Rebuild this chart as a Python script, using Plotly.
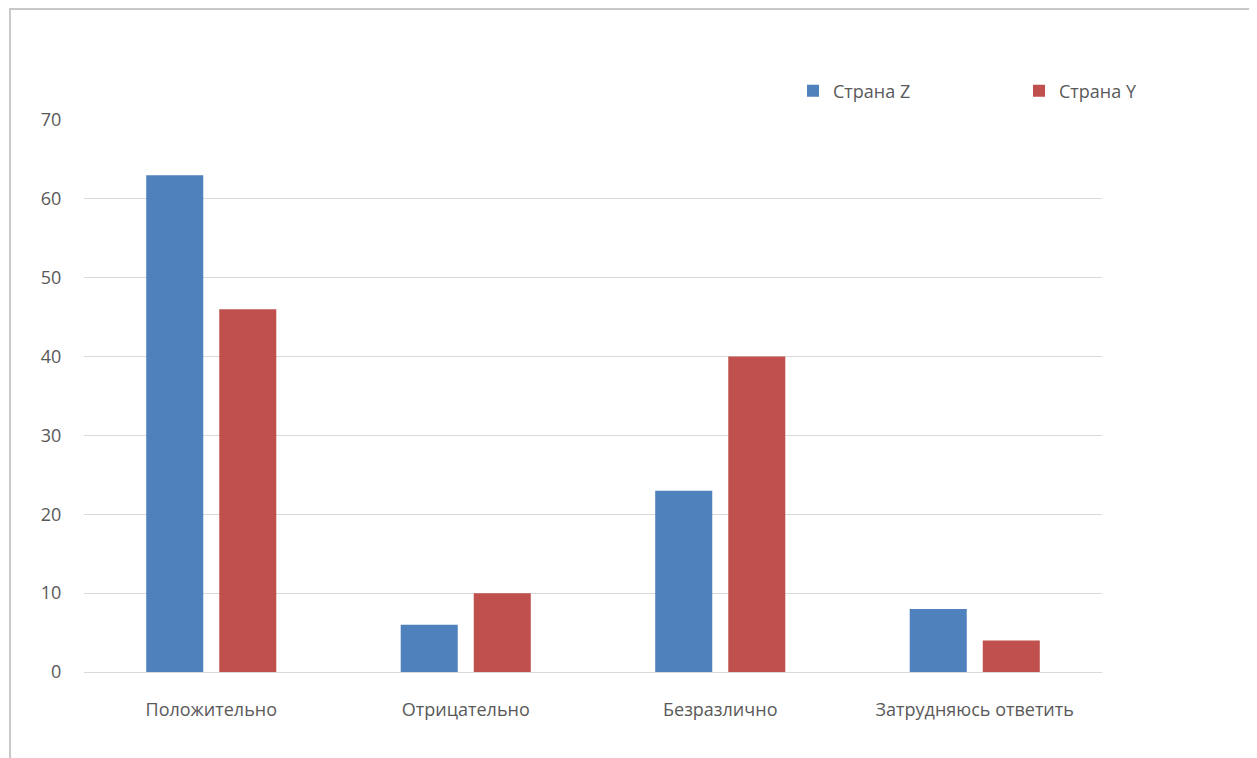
import plotly.graph_objects as go

categories = ["Положительно", "Отрицательно", "Безразлично", "Затрудняюсь ответить"]
country_z = [63, 6, 23, 8]
country_y = [46, 10, 40, 4]
series_names = ["Страна Z", "Страна Y"]
y_ticks = [0, 10, 20, 30, 40, 50, 60, 70]

# page has an 8px body margin; figure coordinates = page coordinates - 8
OFF = 8
W, H = 1257 - OFF, 758 - OFF
L, R, T, B = 84 - OFF, 155, 120 - OFF, 86
pw, ph = W - L - R, H - T - B

def px_x(page_x):
    return (page_x - OFF - L) / pw

def px_y(page_y):
    return (H - B - (page_y - OFF)) / ph

fig = go.Figure()
fig.add_trace(go.Bar(x=categories, y=country_z, name=series_names[0],
                     marker=dict(color="#4F81BD", line=dict(width=0))))
fig.add_trace(go.Bar(x=categories, y=country_y, name=series_names[1],
                     marker=dict(color="#C0504D", line=dict(width=0))))

font_family = "Open Sans, Noto Sans, sans-serif"
fig.update_layout(
    width=W, height=H,
    margin=dict(l=L, r=R, t=T, b=B, pad=0, autoexpand=False),
    paper_bgcolor="white", plot_bgcolor="white",
    barmode="group", bargap=0.426, bargroupgap=0.219,
    font=dict(family=font_family, size=19, color="#595959"),
    legend=dict(orientation="h", x=px_x(793), xanchor="left",
                y=px_y(91), yanchor="middle",
                entrywidth=181, entrywidthmode="pixels",
                font=dict(size=18, color="#595959"),
                bgcolor="rgba(0,0,0,0)"),
    xaxis=dict(showgrid=False, showline=False, ticks="outside", ticklen=21,
               tickcolor="rgba(0,0,0,0)",
               tickfont=dict(size=18, color="#595959")),
    yaxis=dict(range=[0, 70], tickvals=y_ticks, showgrid=True,
               gridcolor="#D9D9D9", gridwidth=1, zeroline=True,
               zerolinecolor="#D9D9D9", zerolinewidth=1,
               showline=False, ticks="outside", ticklen=18,
               tickcolor="rgba(0,0,0,0)",
               tickfont=dict(size=18, color="#595959")),
    shapes=[dict(type="rect", xref="paper", yref="paper",
                 x0=px_x(10), x1=px_x(1400), y0=px_y(900), y1=px_y(9),
                 line=dict(color="#C8C8C8", width=2), layer="below")],
)

fig.write_html("out.html")
